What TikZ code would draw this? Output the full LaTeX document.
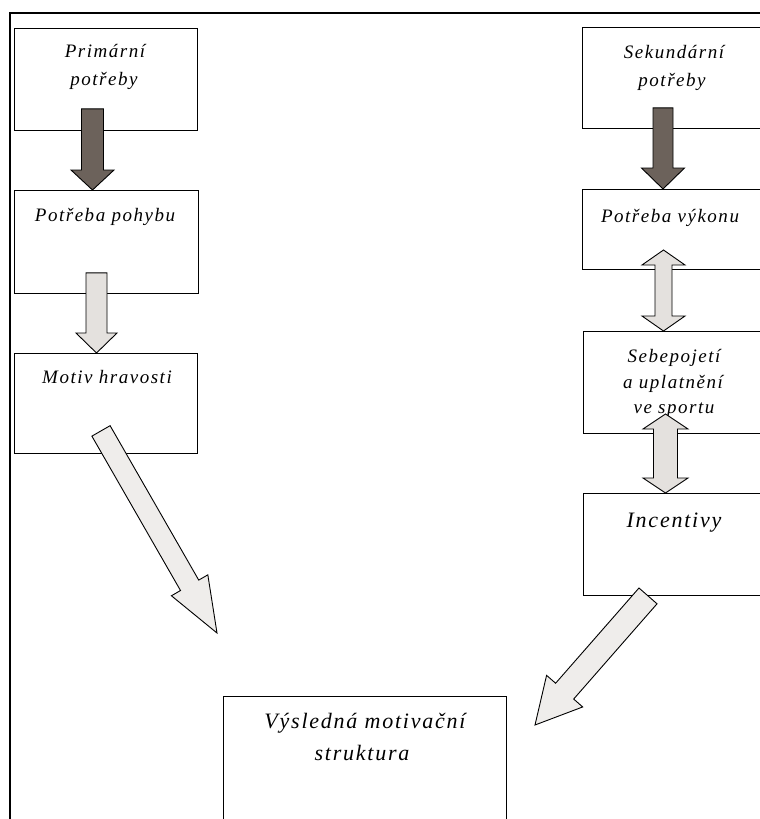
\documentclass[tikz,border=0pt]{standalone}
\usepackage{fontspec}
\setmainfont{Liberation Serif}
\newfontfamily\lblfont[LetterSpace=8]{Liberation Serif}
\usetikzlibrary{calc}
\definecolor{ardark}{HTML}{6C625B}
\definecolor{ardarkmid}{HTML}{A39A93}
\definecolor{arlight}{HTML}{E4E1DE}
\definecolor{arlightmid}{HTML}{FAF9F8}
\definecolor{ardiag}{HTML}{EFEDEB}
\tikzset{
  box/.style={draw=black, line width=0.9pt, fill=white, anchor=north west, inner sep=0pt},
  lbl/.style={font=\lblfont\itshape\fontsize{19}{23}\selectfont, anchor=base, inner sep=0pt},
  biglbl/.style={font=\lblfont\itshape\fontsize{22}{26}\selectfont, anchor=base, inner sep=0pt},
  darkarr/.style={draw=black, line width=0.9pt, left color=ardark, middle color=ardarkmid, right color=ardark},
  lightarr/.style={draw=black, line width=0.9pt, left color=arlight, middle color=arlightmid, right color=arlight},
  diagarr/.style={draw=black, line width=0.9pt, fill=ardiag},
  frame/.style={draw=black, line width=2.8pt},
}
% single fat arrow: style, from, to, shaft half width, head half width, head length
\newcommand\fatarrow[6]{%
  \coordinate (fa-hb) at ($(#3)!#6!(#2)$);
  \path[#1] ($(#2)!#4!90:(#3)$) -- ($(fa-hb)!#4!-90:(#2)$) -- ($(fa-hb)!#5!-90:(#2)$)
    -- (#3) -- ($(fa-hb)!#5!90:(#2)$) -- ($(fa-hb)!#4!90:(#2)$) -- ($(#2)!#4!-90:(#3)$) -- cycle;}
% double fat arrow: style, end a, end b, shaft half width, head half width, head length
\newcommand\dblarrow[6]{%
  \coordinate (da-h1) at ($(#2)!#6!(#3)$);
  \coordinate (da-h2) at ($(#3)!#6!(#2)$);
  \path[#1] (#2) -- ($(da-h1)!#5!90:(#3)$) -- ($(da-h1)!#4!90:(#3)$) -- ($(da-h2)!#4!-90:(#2)$)
    -- ($(da-h2)!#5!-90:(#2)$) -- (#3) -- ($(da-h2)!#5!90:(#2)$) -- ($(da-h2)!#4!90:(#2)$)
    -- ($(da-h1)!#4!-90:(#3)$) -- ($(da-h1)!#5!-90:(#3)$) -- cycle;}
\begin{document}
\begin{tikzpicture}[x=1pt,y=-1pt]
\useasboundingbox (0,0) rectangle (760,819);
\clip (0,0) rectangle (760,819);
\fill[white] (0,0) rectangle (760,819);
% frame
\draw[frame] (770,13) -- (10,13) -- (10,830);
% boxes
\node[box, minimum width=183pt, minimum height=102pt] (b1) at (14,28) {};
\node[box, minimum width=184pt, minimum height=103pt] (b2) at (14,190) {};
\node[box, minimum width=183pt, minimum height=100pt] (b3) at (14,353) {};
\node[box, minimum width=185pt, minimum height=101pt] (b4) at (582,27) {};
\node[box, minimum width=185pt, minimum height=80pt] (b5) at (582,189) {};
\node[box, minimum width=184pt, minimum height=102pt] (b6) at (583,331) {};
\node[box, minimum width=184pt, minimum height=102pt] (b7) at (583,493) {};
\node[box, minimum width=283pt, minimum height=140pt] (b8) at (223,696) {};
% labels
\node[lbl] (t1a) at (105,57) {Primární};
\node[lbl] (t1b) at (104,85) {potřeby};
\node[lbl] (t2) at (105,221) {Potřeba pohybu};
\node[lbl] (t3) at (107,383) {Motiv hravosti};
\node[lbl] (t4a) at (674,58) {Sekundární};
\node[lbl] (t4b) at (672,86) {potřeby};
\node[lbl] (t5) at (670,222) {Potřeba výkonu};
\node[lbl] (t6a) at (674,362) {Sebepojetí};
\node[lbl] (t6b) at (673,388) {a uplatnění};
\node[lbl] (t6c) at (674,413) {ve sportu};
\node[biglbl] (t7) at (674,527) {Incentivy};
\node[biglbl] (t8a) at (365,728) {Výsledná motivační};
\node[biglbl] (t8b) at (362,760) {struktura};
% arrow end points
\coordinate (a1s) at ($(b1.south west)+(78.5,-22)$);
\coordinate (a1e) at (a1s |- b2.north);
\coordinate (a2s) at ($(b2.south west)+(82.5,-21)$);
\coordinate (a2e) at (a2s |- b3.north);
\coordinate (a3s) at ($(b3.south west)+(87,-23)$);
\coordinate (a3e) at (217,633);
\coordinate (a4s) at ($(b4.south west)+(81,-21)$);
\coordinate (a4e) at (a4s |- b5.north);
\coordinate (a5s) at (663.5,250);
\coordinate (a5e) at (a5s |- b6.north);
\coordinate (a6s) at (665.5,414);
\coordinate (a6e) at (a6s |- b7.north);
\coordinate (a7s) at ($(b7.south west)+(65,0)$);
\coordinate (a7e) at (535,725);
% arrows
\fatarrow{darkarr}{a1s}{a1e}{11pt}{21.5pt}{20pt}
\fatarrow{lightarr}{a2s}{a2e}{10.5pt}{20.5pt}{20pt}
\fatarrow{diagarr}{a3s}{a3e}{10.5pt}{21pt}{55pt}
\fatarrow{darkarr}{a4s}{a4e}{10pt}{21.5pt}{21pt}
\dblarrow{lightarr}{a5s}{a5e}{8.5pt}{21.5pt}{15pt}
\dblarrow{lightarr}{a6s}{a6e}{12pt}{22.5pt}{15pt}
\fatarrow{diagarr}{a7s}{a7e}{12pt}{24pt}{45pt}
\end{tikzpicture}
\end{document}
